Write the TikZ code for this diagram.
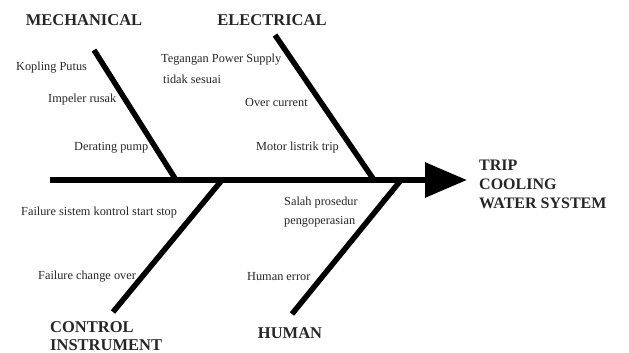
\documentclass[tikz,border=0pt]{standalone}
\usepackage{fontspec}
\setmainfont{Liberation Serif}
\usetikzlibrary{arrows.meta}
\begin{document}
\begin{tikzpicture}[x=1pt,y=-1pt,
  bone/.style={line width=5.5pt,black},
  spine/.style={line width=6pt,black,-{Triangle[length=42pt,width=34pt]}},
  cause/.style={font=\fontsize{12.3}{14}\selectfont,text=black!85,inner sep=0pt,anchor=west},
  head/.style={font=\fontsize{16.5}{18.5}\selectfont\bfseries,text=black!85,inner sep=0pt},
]
\useasboundingbox (0,0) rectangle (629,353);
% spine
\coordinate (tail) at (50,180);
\coordinate (tip) at (467,180);
\draw[spine] (tail) -- (tip);
% bones
\coordinate (m1) at (94,50);   \coordinate (m2) at (176,180);
\coordinate (e1) at (275,35);  \coordinate (e2) at (374,180);
\coordinate (c1) at (113,312); \coordinate (c2) at (222,180);
\coordinate (h1) at (292,314); \coordinate (h2) at (401,180);
\draw[bone] (m1) -- (m2);
\draw[bone] (e1) -- (e2);
\draw[bone] (c1) -- (c2);
\draw[bone] (h1) -- (h2);
% headings
\node[head] (mech) at (84,20) {MECHANICAL};
\node[head] (elec) at (272,20) {ELECTRICAL};
\node[head,anchor=west,align=left] (ctrl) at (50,336) {CONTROL\\INSTRUMENT};
\node[head] (hum) at (290,333) {HUMAN};
\node[head,anchor=west,align=left,font=\fontsize{16}{19}\selectfont\bfseries] (eff) at (479,184) {TRIP\\COOLING\\WATER SYSTEM};
% causes
\node[cause] (k1) at (16,68) {Kopling Putus};
\node[cause] (k2) at (48,100) {Impeler rusak};
\node[cause] (k3) at (74,148) {Derating pump};
\node[cause] (l1) at (161,60) {Tegangan Power Supply};
\node[cause] (l2) at (163,79) {tidak sesuai};
\node[cause] (l3) at (245,102) {Over current};
\node[cause] (l4) at (256,148) {Motor listrik trip};
\node[cause] (c3) at (21,213) {Failure sistem kontrol start stop};
\node[cause] (c4) at (38,277) {Failure change over};
\node[cause] (s1) at (284,203) {Salah prosedur};
\node[cause] (s2) at (284,222) {pengoperasian};
\node[cause] (s3) at (247,277) {Human error};
\end{tikzpicture}
\end{document}
